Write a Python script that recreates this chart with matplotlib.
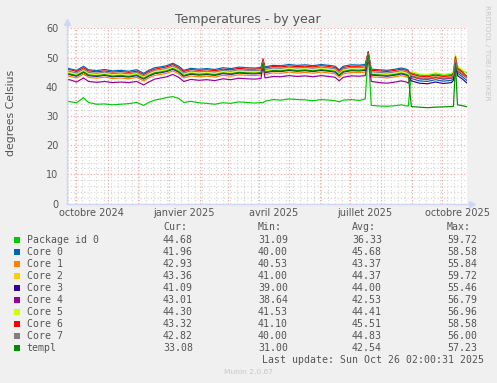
import matplotlib
matplotlib.use('Agg')
import matplotlib.pyplot as plt
from matplotlib.patches import Rectangle
from datetime import datetime, timedelta

# ---------------- data ----------------
start_date = datetime(2024, 9, 21, 2, 0, 31)
end_date = datetime(2025, 10, 26, 2, 0, 31)

day_offsets = [0, 5, 10, 17, 22, 30, 38, 46, 54, 62, 70, 77, 82, 88, 94, 100, 106, 112, 117, 124,
               132, 140, 148, 156, 164, 172, 180, 188, 194, 196, 198, 206, 214, 222, 230, 238, 246,
               254, 262, 268, 272, 276, 284, 292, 298, 301, 304, 312, 320, 328, 334, 339, 341,
               344, 352, 360, 368, 376, 384, 386, 388, 390, 395, 400]

package_id_0 = [35.0, 34.8, 34.5, 36.2, 34.6, 34.0, 34.1, 33.8, 34.0, 34.2, 34.6, 33.6, 34.6, 35.4, 35.8,
                36.3, 36.6, 36.0, 34.6, 35.0, 34.5, 34.3, 34.0, 34.5, 34.3, 34.8, 34.6, 34.4, 34.6, 34.5,
                35.0, 35.6, 35.4, 35.8, 35.6, 35.5, 35.2, 35.6, 35.4, 35.2, 34.8, 35.4, 35.6, 35.3, 35.8,
                52.0, 33.6, 33.4, 33.3, 33.5, 33.8, 33.4, 33.4,
                44.8, 44.0, 43.8, 44.4, 43.9, 44.2, 45.0, 50.5, 46.6, 45.4, 44.68]
core_0 = [46.4, 46.0, 45.6, 47.0, 45.8, 45.5, 45.9, 45.4, 45.6, 45.3, 45.8, 44.6, 45.6, 46.5, 46.8,
          47.2, 48.0, 47.0, 45.6, 46.3, 46.0, 46.2, 45.9, 46.5, 46.2, 46.7, 46.5, 46.4, 46.6, 49.0,
          46.8, 47.3, 47.2, 47.6, 47.3, 47.5, 47.2, 47.6, 47.3, 47.0, 45.8, 47.0, 47.5, 47.4, 47.6,
          51.8, 46.0, 45.8, 45.6, 46.0, 46.4, 46.0, 45.6,
          42.8, 42.0, 41.8, 42.4, 41.9, 42.2, 43.0, 48.5, 44.6, 43.4, 41.96]
core_1 = [43.8, 43.4, 43.0, 44.3, 43.2, 42.9, 43.3, 42.8, 43.0, 42.7, 43.2, 42.0, 43.0, 43.9, 44.2,
          44.6, 45.4, 44.4, 43.0, 43.7, 43.4, 43.6, 43.3, 43.9, 43.6, 44.1, 43.9, 43.8, 44.0, 47.5,
          44.2, 44.7, 44.6, 45.0, 44.7, 44.9, 44.6, 45.0, 44.7, 44.4, 43.2, 44.4, 44.9, 44.8, 45.0,
          50.5, 43.4, 43.2, 43.0, 43.4, 43.8, 43.4, 43.0,
          43.4, 42.6, 42.4, 43.0, 42.5, 42.8, 43.6, 49.0, 45.2, 44.0, 42.93]
core_2 = [44.8, 44.4, 44.0, 45.3, 44.2, 43.9, 44.3, 43.8, 44.0, 43.7, 44.2, 43.0, 44.0, 44.9, 45.2,
          45.6, 46.4, 45.4, 44.0, 44.7, 44.4, 44.6, 44.3, 44.9, 44.6, 45.1, 44.9, 44.8, 45.0, 48.6,
          45.2, 45.7, 45.6, 46.0, 45.7, 45.9, 45.6, 46.0, 45.7, 45.4, 44.2, 45.4, 45.9, 45.8, 46.0,
          51.4, 44.4, 44.2, 44.0, 44.4, 44.8, 44.4, 44.0,
          44.2, 43.4, 43.2, 43.8, 43.3, 43.6, 44.4, 50.0, 46.0, 44.8, 43.36]
core_3 = [44.4, 44.0, 43.6, 44.9, 43.8, 43.5, 43.9, 43.4, 43.6, 43.3, 43.8, 42.6, 43.6, 44.5, 44.8,
          45.2, 46.0, 45.0, 43.6, 44.3, 44.0, 44.2, 43.9, 44.5, 44.2, 44.7, 44.5, 44.4, 44.6, 47.8,
          44.8, 45.3, 45.2, 45.6, 45.3, 45.5, 45.2, 45.6, 45.3, 45.0, 43.8, 45.0, 45.5, 45.4, 45.6,
          51.0, 44.0, 43.8, 43.6, 44.0, 44.4, 44.0, 43.6,
          42.0, 41.2, 41.0, 41.6, 41.1, 41.4, 42.2, 47.5, 43.8, 42.6, 41.09]
core_4 = [42.6, 42.2, 41.6, 43.0, 41.8, 41.5, 41.8, 41.4, 41.6, 41.4, 41.8, 40.6, 41.6, 42.6, 43.0,
          43.4, 44.2, 43.2, 41.8, 42.5, 42.2, 42.4, 42.1, 42.7, 42.4, 42.9, 42.7, 42.6, 42.8, 47.0,
          43.0, 43.5, 43.4, 43.8, 43.5, 43.7, 43.4, 43.8, 43.5, 43.2, 42.0, 43.2, 43.7, 43.6, 43.8,
          50.0, 41.8, 41.4, 41.2, 41.6, 42.0, 41.6, 41.2,
          43.6, 42.8, 42.6, 43.2, 42.7, 43.0, 43.8, 49.2, 45.4, 44.2, 43.01]
core_5 = [45.0, 44.6, 44.2, 45.5, 44.4, 44.1, 44.5, 44.0, 44.2, 43.9, 44.4, 43.2, 44.2, 45.1, 45.4,
          45.8, 46.6, 45.6, 44.2, 44.9, 44.6, 44.8, 44.5, 45.1, 44.8, 45.3, 45.1, 45.0, 45.2, 48.5,
          45.4, 45.9, 45.8, 46.2, 45.9, 46.1, 45.8, 46.2, 45.9, 45.6, 44.4, 45.6, 46.1, 46.0, 46.2,
          51.0, 44.6, 44.4, 44.2, 44.6, 45.0, 44.6, 44.2,
          45.2, 44.4, 44.2, 44.8, 44.3, 44.6, 45.4, 50.9, 47.0, 45.8, 44.30]
core_6 = [46.0, 45.7, 45.2, 46.5, 45.4, 45.1, 45.4, 45.0, 45.2, 44.9, 45.3, 44.2, 45.2, 46.0, 46.4,
          46.8, 47.6, 46.5, 45.2, 45.9, 45.6, 45.8, 45.5, 46.0, 45.8, 46.3, 46.0, 46.0, 46.2, 49.6,
          46.4, 46.9, 46.8, 47.1, 46.9, 47.0, 46.8, 47.2, 46.9, 46.6, 45.4, 46.6, 47.0, 47.0, 47.2,
          52.0, 45.6, 45.4, 45.2, 45.6, 46.0, 45.6, 45.2,
          44.4, 43.6, 43.4, 44.0, 43.5, 43.8, 44.6, 50.2, 46.2, 45.0, 43.32]
core_7 = [45.5, 45.1, 44.7, 46.0, 44.9, 44.6, 45.0, 44.5, 44.7, 44.4, 44.9, 43.7, 44.7, 45.6, 45.9,
          46.3, 47.1, 46.1, 44.7, 45.4, 45.1, 45.3, 45.0, 45.6, 45.3, 45.8, 45.6, 45.5, 45.7, 48.8,
          45.9, 46.4, 46.3, 46.7, 46.4, 46.6, 46.3, 46.7, 46.4, 46.1, 44.9, 46.1, 46.6, 46.5, 46.7,
          51.5, 45.1, 44.9, 44.7, 45.1, 45.5, 45.1, 44.7,
          43.8, 43.0, 42.8, 43.4, 42.9, 43.2, 44.0, 49.5, 45.6, 44.4, 42.82]
templ = [44.6, 44.2, 43.8, 45.1, 44.0, 43.7, 44.1, 43.6, 43.8, 43.5, 44.0, 42.8, 43.8, 44.7, 45.0,
         45.4, 46.2, 45.2, 43.8, 44.5, 44.2, 44.4, 44.1, 44.7, 44.4, 44.9, 44.7, 44.6, 44.8, 48.0,
         45.0, 45.5, 45.4, 45.8, 45.5, 45.7, 45.4, 45.8, 45.5, 45.2, 44.0, 45.2, 45.7, 45.6, 45.8,
         50.8, 44.2, 44.0, 43.8, 44.2, 44.6, 44.2, 43.8,
         33.2, 33.0, 32.8, 33.0, 33.1, 33.2, 33.3, 48.0, 33.8, 33.5, 33.08]

series_names = ["Package id 0", "Core 0", "Core 1", "Core 2", "Core 3", "Core 4",
                "Core 5", "Core 6", "Core 7", "templ"]
series_values = [package_id_0, core_0, core_1, core_2, core_3, core_4, core_5, core_6, core_7, templ]
series_colors = ["#00CC00", "#0066B3", "#FF8000", "#FFCC00", "#330099", "#990099",
                 "#CCFF00", "#FF0000", "#808080", "#008F00"]

cur_values = ["44.68", "41.96", "42.93", "43.36", "41.09", "43.01", "44.30", "43.32", "42.82", "33.08"]
min_values = ["31.09", "40.00", "40.53", "41.00", "39.00", "38.64", "41.53", "41.10", "40.00", "31.00"]
avg_values = ["36.33", "45.68", "43.37", "44.37", "44.00", "42.53", "44.41", "45.51", "44.83", "42.54"]
max_values = ["59.72", "58.58", "55.84", "59.72", "55.46", "56.79", "56.96", "58.58", "56.00", "57.23"]

x_labels = ["octobre 2024", "janvier 2025", "avril 2025", "juillet 2025", "octobre 2025"]
x_label_months = [(2024, 10), (2025, 1), (2025, 4), (2025, 7), (2025, 10)]
y_ticks = [0, 10, 20, 30, 40, 50, 60]

title = "Temperatures - by year"
y_title = "degrees Celsius"
last_update = "Last update: Sun Oct 26 02:00:31 2025"

# ---------------- figure ----------------
W, H = 497, 383
fig = plt.figure(figsize=(W / 100, H / 100), dpi=100)
fig.patch.set_facecolor('#F0F0F0')

def fx(x):
    return x / W

def fy(y):
    return 1 - y / H

left_px, right_px, top_px, bottom_px = 66.5, 467.5, 28.3, 203.5
ax = fig.add_axes([fx(left_px), fy(bottom_px), (right_px - left_px) / W, (bottom_px - top_px) / H])
ax.set_facecolor('white')
for s in ax.spines.values():
    s.set_visible(False)

ax.set_xlim(start_date, end_date)
ax.set_ylim(0, 60)

FONT_C = '#555555'
AXIS_C = '#CFD6F8'
MINOR_C = '#D4D4D4'
MAJOR_C = '#F0A0A0'
dots = (0, (1, 2))

# horizontal grid
for v in range(0, 61, 2):
    if v % 10 == 0:
        ax.axhline(v, color=MAJOR_C, lw=0.8, ls=dots, zorder=1)
    else:
        ax.axhline(v, color=MINOR_C, lw=0.8, ls=dots, zorder=0.9)

# vertical grid: weeks (grey) and months (red)
d = datetime(2024, 9, 23)
while d < end_date:
    ax.axvline(d, color=MINOR_C, lw=0.8, ls=dots, zorder=0.9)
    d += timedelta(days=7)
y, m = 2024, 10
while datetime(y, m, 1) < end_date:
    ax.axvline(datetime(y, m, 1), color=MAJOR_C, lw=0.8, ls=dots, zorder=1)
    m += 1
    if m > 12:
        m = 1
        y += 1

dates = [start_date + timedelta(days=o) for o in day_offsets]
for vals, col in zip(series_values, series_colors):
    ax.plot(dates, vals, color=col, lw=0.85, zorder=3, solid_joinstyle='round')

# ticks
ax.set_yticks(y_ticks)
ax.set_yticklabels([str(t) for t in y_ticks], fontsize=7, color=FONT_C)
ax.tick_params(axis='y', length=0, pad=6)
label_dates = [datetime(yy, mm, 16) for yy, mm in x_label_months]
ax.set_xticks(label_dates)
ax.set_xticklabels(x_labels, fontsize=7, color=FONT_C)
ax.tick_params(axis='x', length=0, pad=3)

# axes with arrows
ax.plot([0, 0], [0, 1.03], transform=ax.transAxes, color=AXIS_C, lw=1, clip_on=False, zorder=4)
ax.plot([0, 1.01], [0, 0], transform=ax.transAxes, color=AXIS_C, lw=1, clip_on=False, zorder=4)
ax.plot([0], [1.035], transform=ax.transAxes, marker='^', color=AXIS_C, ms=4, clip_on=False, zorder=4)
ax.plot([1.012], [0], transform=ax.transAxes, marker='>', color=AXIS_C, ms=4, clip_on=False, zorder=4)

# titles
fig.text(fx(248), fy(19), title, fontsize=9, color=FONT_C, ha='center', va='center')
fig.text(fx(11), fy(113), y_title, fontsize=7.8, color=FONT_C, ha='center', va='center', rotation=90)
fig.text(fx(487), fy(53), "RRDTOOL / TOBI OETIKER", fontsize=5.4, color='#C8C8C8',
         ha='center', va='center', rotation=270)

# legend
mono = 'DejaVu Sans Mono'
fs = 7.1
col_x = [163, 258, 352, 447]
for cx, hdr in zip(col_x, ["Cur:", "Min:", "Avg:", "Max:"]):
    fig.text(fx(cx), fy(227.5), hdr, fontsize=fs, family=mono, color=FONT_C, ha='left', va='center')
row_y0, row_dy = 239.8, 11.97
for i, name in enumerate(series_names):
    yy = row_y0 + i * row_dy
    fig.patches.append(Rectangle((fx(14), fy(yy + 3)), 6 / W, 6 / H, transform=fig.transFigure,
                                 facecolor=series_colors[i], edgecolor='none'))
    fig.text(fx(26.7), fy(yy), name, fontsize=fs, family=mono, color=FONT_C, ha='left', va='center')
    for cx, val in zip(col_x, [cur_values[i], min_values[i], avg_values[i], max_values[i]]):
        fig.text(fx(cx), fy(yy), val, fontsize=fs, family=mono, color=FONT_C, ha='left', va='center')
fig.text(fx(262), fy(359.7), last_update, fontsize=fs, family=mono, color=FONT_C, ha='left', va='center')
fig.text(fx(248), fy(372.5), "Munin 2.0.67", fontsize=5.4, color='#C8C8C8', ha='center', va='center')

fig.savefig('out.png', dpi=100, facecolor=fig.get_facecolor())
